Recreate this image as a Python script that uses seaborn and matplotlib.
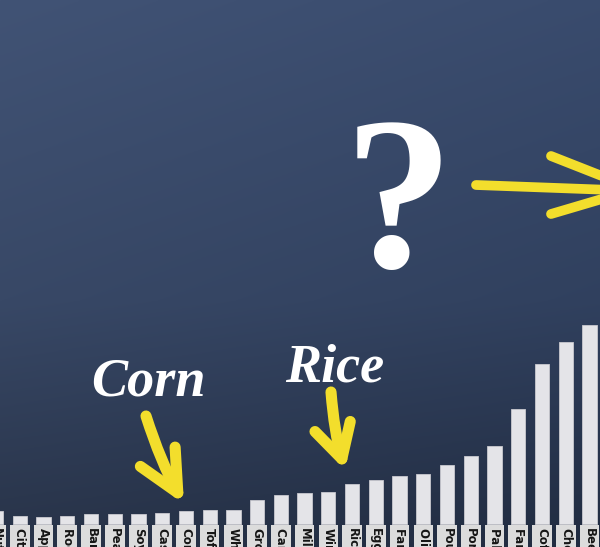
import numpy as np
import pandas as pd
import seaborn as sns
import matplotlib.pyplot as plt

# ---- data (stylised bar heights) ----
foods = ["Nuts", "Citrus Fruit", "Apples", "Root Vegetables", "Bananas", "Peas",
         "Soymilk", "Cassava", "Corn", "Tofu", "Wheat", "Groundnuts", "Cane Sugar",
         "Milk", "Wine", "Rice", "Eggs", "Farmed Fish", "Olive Oil", "Poultry",
         "Pork", "Palm Oil", "Farmed Prawns", "Coffee", "Cheese", "Beef"]
heights = [13, 8, 7, 8, 10, 10, 10, 11, 13, 14, 14, 24, 29, 31, 32, 40, 44, 48,
           50, 59, 68, 78, 115, 160, 182, 199]

df = pd.DataFrame({"food": foods, "value": heights})

W, H = 600, 547
fig = plt.figure(figsize=(6.0, 5.47), dpi=100)

# ---- chalkboard background ----
bg = fig.add_axes([0, 0, 1, 1], zorder=0)
bg.set_axis_off()
ny, nx = 300, 300
t = np.linspace(0, 1, ny)[:, None]
s = np.linspace(0, 1, nx)[None, :]
top = np.array([65, 83, 117]) / 255
mid = np.array([56, 72, 102]) / 255
bot = np.array([40, 51, 72]) / 255
tt = t[..., None]
img = np.where(tt < 0.55,
               top * (1 - tt / 0.55) + mid * (tt / 0.55),
               mid * (1 - (tt - 0.55) / 0.45) + bot * ((tt - 0.55) / 0.45))
img = img - 0.03 * s[..., None]
img = np.clip(img, 0, 1)
bg.imshow(img, extent=[0, 1, 0, 1], aspect="auto", origin="upper")
bg.set_xlim(0, 1)
bg.set_ylim(0, 1)

# ---- bars ----
ax = fig.add_axes([0, 0, 1, 1], zorder=1)
ax.patch.set_alpha(0)
sns.barplot(data=df, x="food", y="value", color="#e4e4e8", saturation=1,
            width=0.6, edgecolor="#c9c9cf", linewidth=0.6, ax=ax)
step = 23.74
ax.set_xlim(4 / step, (W + 4) / step)
ax.set_ylim(-23, H - 23)
ax.set_axis_off()
for i, name in enumerate(foods):
    ax.text(i, -4, name, rotation=270, ha="center", va="top",
            fontsize=8.5, fontweight="bold", color="#151515",
            family="DejaVu Sans",
            bbox=dict(boxstyle="square,pad=0.28", facecolor="#dcdcdc",
                      edgecolor="none"), clip_on=False)

# ---- overlay decorations in pixel coordinates ----
ov = fig.add_axes([0, 0, 1, 1], zorder=2)
ov.patch.set_alpha(0)
ov.set_xlim(0, W)
ov.set_ylim(H, 0)
ov.set_axis_off()

yellow = "#f3de2c"
ov.text(399, 267, "?", ha="center", va="baseline", fontsize=158,
        fontweight="bold", family="Liberation Serif", color="white")
ov.text(148, 396, "Corn", ha="center", va="baseline", fontsize=39,
        fontweight="bold", fontstyle="italic", family="Liberation Serif",
        color="white")
ov.text(335, 382, "Rice", ha="center", va="baseline", fontsize=39,
        fontweight="bold", fontstyle="italic", family="Liberation Serif",
        color="white")

arrow_kw = dict(lw=8, color=yellow, capstyle="round",
                joinstyle="round", shrinkA=0, shrinkB=0, mutation_scale=22)
ov.annotate("", xy=(184, 504), xytext=(146, 416),
            arrowprops=dict(arrowstyle="->,head_length=1.35,head_width=0.65",
                            connectionstyle="arc3,rad=0.05", **arrow_kw))
ov.annotate("", xy=(345, 470), xytext=(331, 392),
            arrowprops=dict(arrowstyle="->,head_length=1.1,head_width=0.6",
                            connectionstyle="arc3,rad=0.05", **arrow_kw))

# right-hand arrow running off the edge
for (x0, y0, x1, y1) in [(476, 185, 612, 190), (551, 156, 612, 180),
                         (551, 214, 612, 196)]:
    ov.plot([x0, x1], [y0, y1], color=yellow, lw=7, solid_capstyle="round")

fig.savefig("out.png", dpi=100)
